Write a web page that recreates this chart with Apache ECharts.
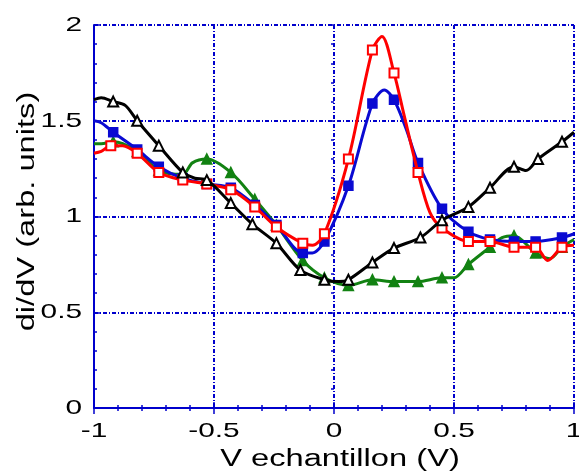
<!DOCTYPE html>
<html><head><meta charset="utf-8">
<script src="https://cdn.jsdelivr.net/npm/echarts@6/dist/echarts.min.js"></script>
<style>html,body{margin:0;padding:0;background:#fff}#c{width:579px;height:476px}</style>
</head><body><div id="c"></div>
<script>
const X_TICKS = [-1, -0.5, 0, 0.5, 1];
const Y_TICKS = [0, 0.5, 1, 1.5, 2];
const X_TITLE = 'V echantillon (V)';
const Y_TITLE = 'di/dV (arb. units)';

const BLACK = [[-1.0,1.61],[-0.97,1.62],[-0.92,1.60],[-0.87,1.58],[-0.82,1.50],[-0.73,1.37],[-0.63,1.23],[-0.58,1.20],[-0.53,1.19],[-0.43,1.07],[-0.34,0.96],[-0.24,0.86],[-0.14,0.72],[-0.04,0.67],[0.02,0.66],[0.06,0.67],[0.16,0.76],[0.25,0.835],[0.36,0.89],[0.45,0.98],[0.56,1.05],[0.65,1.15],[0.75,1.26],[0.80,1.24],[0.85,1.30],[0.95,1.39],[1.0,1.44]];
const BLACK_MARKS = [-0.92,-0.82,-0.73,-0.63,-0.53,-0.43,-0.34,-0.24,-0.14,-0.04,0.06,0.16,0.25,0.36,0.45,0.56,0.65,0.75,0.85,0.95];

const GREEN = [[-1.0,1.38],[-0.97,1.38],[-0.92,1.39],[-0.88,1.38],[-0.82,1.34],[-0.73,1.24],[-0.63,1.22],[-0.59,1.28],[-0.53,1.30],[-0.43,1.23],[-0.33,1.09],[-0.24,0.955],[-0.13,0.77],[-0.04,0.68],[0.06,0.64],[0.16,0.67],[0.25,0.66],[0.35,0.66],[0.45,0.68],[0.50,0.68],[0.56,0.75],[0.65,0.84],[0.70,0.89],[0.75,0.90],[0.84,0.81],[0.90,0.78],[0.95,0.84],[1.0,0.88]];
const GREEN_MARKS = [-0.92,-0.82,-0.73,-0.63,-0.53,-0.43,-0.33,-0.24,-0.13,-0.04,0.06,0.16,0.25,0.35,0.45,0.56,0.65,0.75,0.84,0.95];

const BLUE = [[-1.0,1.50],[-0.97,1.49],[-0.92,1.44],[-0.82,1.35],[-0.73,1.26],[-0.63,1.20],[-0.53,1.17],[-0.43,1.15],[-0.33,1.06],[-0.24,0.955],[-0.13,0.81],[-0.09,0.81],[-0.04,0.87],[0.06,1.16],[0.16,1.59],[0.21,1.66],[0.25,1.61],[0.30,1.46],[0.35,1.28],[0.45,1.04],[0.56,0.92],[0.65,0.88],[0.75,0.87],[0.84,0.87],[0.95,0.89],[1.0,0.91]];
const BLUE_MARKS = [-0.92,-0.82,-0.73,-0.63,-0.53,-0.43,-0.33,-0.24,-0.13,-0.04,0.06,0.16,0.25,0.35,0.45,0.56,0.65,0.75,0.84,0.95];

const RED = [[-1.0,1.33],[-0.97,1.34],[-0.93,1.37],[-0.88,1.37],[-0.82,1.33],[-0.73,1.23],[-0.63,1.19],[-0.53,1.17],[-0.43,1.14],[-0.33,1.05],[-0.24,0.945],[-0.13,0.86],[-0.09,0.85],[-0.04,0.91],[0.06,1.30],[0.16,1.87],[0.20,1.94],[0.25,1.75],[0.29,1.54],[0.35,1.23],[0.40,1.02],[0.45,0.94],[0.56,0.87],[0.65,0.87],[0.75,0.84],[0.84,0.84],[0.89,0.77],[0.95,0.84],[1.0,0.85]];
const RED_MARKS = [-0.93,-0.82,-0.73,-0.63,-0.53,-0.43,-0.33,-0.24,-0.13,-0.04,0.06,0.16,0.25,0.35,0.45,0.56,0.65,0.75,0.84,0.95];

const AX = '#0000cc';
const FONT_FAMILY = '"Liberation Sans", Arial, sans-serif';
const grid = {left:94, right:5, top:25, bottom:68};

function mk(name, data, marks, color, sym, z){
  return {
    name, type:'line', data, smooth:0.3, z,
    symbol: (v) => marks.includes(v[0]) ? sym : 'none',
    symbolSize: /riangle/.test(sym) ? 10 : 9,
    showAllSymbol: true,
    lineStyle:{color, width:3},
    itemStyle:{color, borderColor:color, borderWidth:1.5},
    emphasis:{disabled:true}
  };
}

const tickCommon = {
  axisTick:{show:true, inside:true, length:6, lineStyle:{color:AX, width:1.5}},
  minorTick:{show:true, splitNumber:5, length:3, lineStyle:{color:AX, width:1.5}}
};

const chart = echarts.init(document.getElementById('c'), null, {renderer:'canvas'});
chart.setOption({
  animation:false,
  backgroundColor:'#fff',
  grid,
  xAxis:[Object.assign({
    type:'value', min:-1, max:1, interval:0.5,
    axisLine:{show:true, onZero:false, lineStyle:{color:AX, width:2}},
    axisLabel:{show:false},
    splitLine:{show:true, lineStyle:{color:AX, width:2, type:[4,2,1,2]}}
  }, tickCommon), Object.assign({
    type:'value', min:-1, max:1, interval:0.5, position:'top',
    axisLine:{show:false}, axisLabel:{show:false}, splitLine:{show:false}
  }, tickCommon)],
  yAxis:[Object.assign({
    type:'value', min:0, max:2, interval:0.5,
    axisLine:{show:true, onZero:false, lineStyle:{color:AX, width:2}},
    axisLabel:{show:false},
    splitLine:{show:true, lineStyle:{color:AX, width:2, type:[4,2,1,2]}}
  }, tickCommon), Object.assign({
    type:'value', min:0, max:2, interval:0.5, position:'right',
    axisLine:{show:false}, axisLabel:{show:false}, splitLine:{show:false}
  }, tickCommon)],
  series:[
    mk('green', GREEN, GREEN_MARKS, '#128212', 'triangle', 2),
    mk('blue', BLUE, BLUE_MARKS, '#0a0ad2', 'rect', 3),
    mk('red', RED, RED_MARKS, '#ff0000', 'emptyRect', 4),
    mk('black', BLACK, BLACK_MARKS, '#000000', 'emptyTriangle', 5)
  ]
});

// Text drawn horizontally stretched, as in the reference; positions come from the axes.
const px = v => chart.convertToPixel({xAxisIndex:0}, v);
const py = v => chart.convertToPixel({yAxisIndex:0}, v);
const SX = 1.42;
function txt(text, x, y, align, size, extra){
  return Object.assign({
    type:'text', x, y, scaleX:SX, scaleY:1, silent:true, z:100,
    style:{text, font: size + 'px ' + FONT_FAMILY, fill:'#000',
      textAlign:align, align:align, textVerticalAlign:'middle', verticalAlign:'middle'}
  }, extra || {});
}
const yBottom = py(0), xLeft = px(-1), xRight = px(1), yTop = py(2);
const g = [];
X_TICKS.forEach(v => g.push(txt(String(v), px(v), yBottom + 23, 'center', 21)));
Y_TICKS.forEach(v => g.push(txt(String(v), xLeft - 12, py(v), 'right', 21)));
g.push(txt(X_TITLE, (xLeft + xRight) / 2 + 6, yBottom + 52, 'center', 23));
g.push(txt(Y_TITLE, xLeft - 66, (yTop + yBottom) / 2 - 5, 'center', 23, {rotation: Math.PI / 2}));
chart.setOption({graphic: g});
</script></body></html>
